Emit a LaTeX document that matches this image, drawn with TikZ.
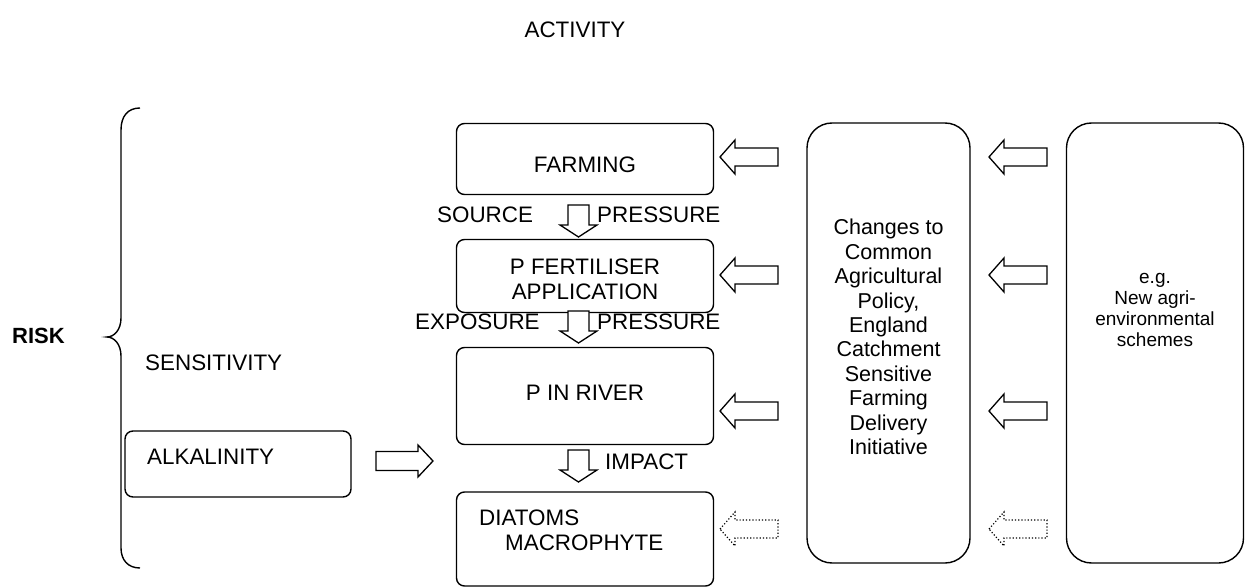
\documentclass[tikz,border=0pt]{standalone}
\usepackage{fontspec}
\setmainfont{Liberation Sans}
\begin{document}
\begin{tikzpicture}[x=1pt,y=-1pt,
  txt/.style={inner sep=0pt, font=\fontsize{22.4}{25}\selectfont},
  box/.style={draw, line width=1.4pt, rounded corners=8pt, inner sep=0pt},
  bigbox/.style={draw, line width=1.4pt, rounded corners=25pt, inner sep=0pt},
  blk/.style={draw, line width=1.3pt, line join=miter, fill=white},
  blkdot/.style={draw, line width=1.2pt, dotted, fill=white},
  larrow/.pic={\path[pic actions] (0,0) -- (15,-17) -- (15,-9) -- (58,-9) -- (58,9) -- (15,9) -- (15,17) -- cycle;},
  darrow/.pic={\path[pic actions] (0,0) -- (-18.5,-12) -- (-10.5,-12) -- (-10.5,-32) -- (10.5,-32) -- (10.5,-12) -- (18.5,-12) -- cycle;},
  rarrow/.pic={\path[pic actions] (0,0) -- (-15,-16) -- (-15,-9.5) -- (-57,-9.5) -- (-57,9.5) -- (-15,9.5) -- (-15,16) -- cycle;}
]
\useasboundingbox[fill=white] (0,0) rectangle (1245,588);

% title
\node[txt] (activity) at (575,30) {ACTIVITY};

% risk brace
\node[txt, font=\fontsize{22}{25}\selectfont\bfseries, anchor=west] (risk) at (12,336) {RISK};
\draw[line width=1.4pt] (140,108) .. controls (128,108) and (121,116) .. (121,130) -- (121,318)
  .. controls (121,330) and (114,337) .. (107,337)
  .. controls (114,337) and (121,344) .. (121,356) -- (121,548)
  .. controls (121,560) and (128,568) .. (140,568);
\node[txt, anchor=west] (sens) at (145,363) {SENSITIVITY};

% alkalinity
\node[box, minimum width=226pt, minimum height=66pt] (alk) at (238,464) {};
\node[txt, anchor=west] (alkt) at (147,457) {ALKALINITY};
\pic[blk] at (433,461) {rarrow};

% main chain
\node[box, minimum width=257pt, minimum height=71pt] (farming) at (585,159) {};
\node[txt] (farmingt) at (585,165) {FARMING};
\node[box, minimum width=257pt, minimum height=73pt] (fert) at (585,276) {};
\node[txt] (fert1) at (585,267) {P FERTILISER};
\node[txt] (fert2) at (585,292) {APPLICATION};
\node[box, minimum width=257pt, minimum height=97pt] (river) at (585,396) {};
\node[txt] (rivert) at (585,393) {P IN RIVER};
\node[box, minimum width=257pt, minimum height=94pt] (diatoms) at (585,539) {};
\node[txt, anchor=west] (diat1) at (479,518) {DIATOMS};
\node[txt, anchor=west] (diat2) at (505,543) {MACROPHYTE};

\pic[blk] at (578.5,237) {darrow};
\pic[blk] at (578.5,343) {darrow};
\pic[blk] at (578.5,482) {darrow};
\node[txt, anchor=west] (source) at (437,215) {SOURCE};
\node[txt, anchor=west] (press1) at (597,215) {PRESSURE};
\node[txt, anchor=west] (expo) at (415,322) {EXPOSURE};
\node[txt, anchor=west] (press2) at (597,322) {PRESSURE};
\node[txt, anchor=west] (impact) at (605,462) {IMPACT};

% policy box
\node[bigbox, minimum width=163pt, minimum height=440pt] (cap) at (888.5,343) {};
\node[inner sep=0pt, align=center, font=\fontsize{21.5}{24.4}\selectfont] (capt) at (888.5,337) {Changes to\\Common\\Agricultural\\Policy,\\England\\Catchment\\Sensitive\\Farming\\Delivery\\Initiative};

% schemes box
\node[bigbox, minimum width=177pt, minimum height=440pt] (eg) at (1155,343) {};
\node[inner sep=0pt, align=center, font=\fontsize{19}{21.3}\selectfont] (egt) at (1155,310) {e.g.\\New agri-\\environmental\\schemes};

% left-pointing arrows
\foreach \y in {157,275,411} {
  \pic[blk] at (720,\y) {larrow};
  \pic[blk] at (989,\y) {larrow};
}
\pic[blkdot] at (720,529) {larrow};
\pic[blkdot] at (989,529) {larrow};
\end{tikzpicture}
\end{document}
